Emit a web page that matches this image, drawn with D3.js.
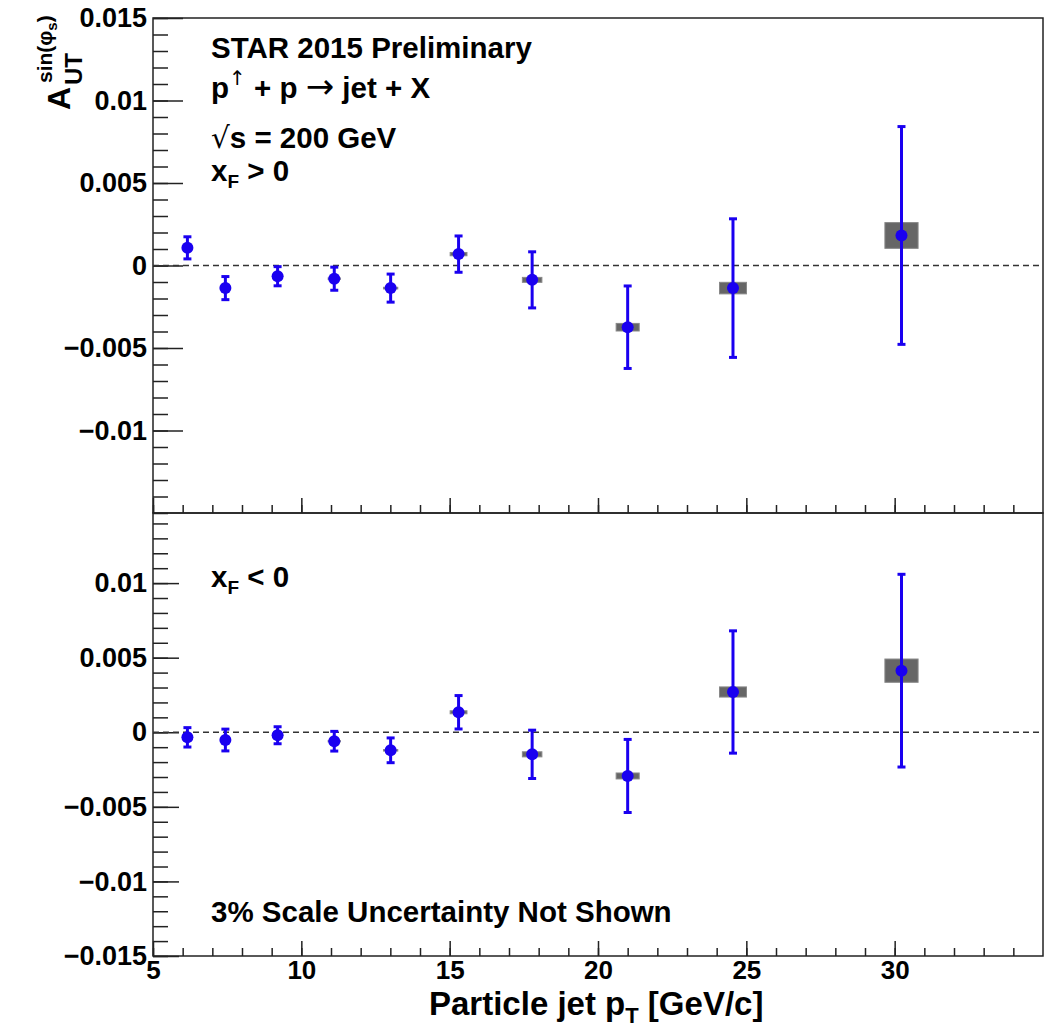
<!DOCTYPE html>
<html>
<head>
<meta charset="utf-8">
<script src="https://cdn.jsdelivr.net/npm/d3@7"></script>
<style>
body { margin: 0; background: #fff; }
text { font-family: "Liberation Sans", Arial, sans-serif; font-weight: bold; fill: #000; }
</style>
</head>
<body>
<script>
var w = 1051, h = 1031;

// particle jet pT bin centres
var pT = [6.16, 7.44, 9.2, 11.11, 13.01, 15.3, 17.78, 21.0, 24.55, 30.23];

// xF > 0
var aTop = [0.00107, -0.00137, -0.00065, -0.0008, -0.00137, 0.00069, -0.00087, -0.00374, -0.00137, 0.00182];
var statTop = [0.00067, 0.0007, 0.00058, 0.0007, 0.00085, 0.0011, 0.0017, 0.0025, 0.0042, 0.0066];
var sysTop = [0.00005, 0.00005, 0.00005, 0.00005, 0.00005, 0.0001, 0.00015, 0.00023, 0.00035, 0.00078];

// xF < 0
var aBot = [-0.00034, -0.00052, -0.0002, -0.0006, -0.00121, 0.00134, -0.00148, -0.00293, 0.0027, 0.00413];
var statBot = [0.00065, 0.00073, 0.00057, 0.00066, 0.00083, 0.00112, 0.00162, 0.00245, 0.0041, 0.00646];
var sysBot = [0.00005, 0.00005, 0.00005, 0.00005, 0.00005, 0.0001, 0.00017, 0.0002, 0.00034, 0.00078];

var xTicks = [5, 10, 15, 20, 25, 30];
var yTicksTop = [0.015, 0.01, 0.005, 0, -0.005, -0.01];
var yTicksBot = [0.01, 0.005, 0, -0.005, -0.01, -0.015];

var blue = "#1a00f0";
var padL = 153, padR = 1043, padT = 18, padM = 513, padB = 956;

var svg = d3.select("body").append("svg")
    .attr("width", w)
    .attr("height", h);

var x = d3.scaleLinear().domain([5, 35]).range([padL, padR]);
var yTop = d3.scaleLinear().domain([-0.015, 0.015]).range([padM, padT]);
var yBot = d3.scaleLinear().domain([-0.015, 0.0147]).range([padB, padM]);

var fmt = d3.format("~g");

function minorRange(a, b, step) {
    return d3.range(Math.ceil(a / step - 1e-6), Math.floor(b / step + 1e-6) + 1).map(function (k) { return +(k * step).toFixed(6); });
}

function styleTicks(g) {
    g.select(".domain").remove();
    g.selectAll("line").attr("stroke", "#222").attr("stroke-width", 1.5);
}

function drawPanel(y, yTicks, majLen, vals, stat, sys) {
    var y0 = y.range()[0], y1 = y.range()[1];

    // frame
    svg.append("rect")
        .attr("x", padL).attr("y", y1)
        .attr("width", padR - padL).attr("height", y0 - y1)
        .attr("fill", "none").attr("stroke", "#222").attr("stroke-width", 1.5);

    // y minor ticks
    svg.append("g")
        .attr("transform", "translate(" + padL + ",0)")
        .call(d3.axisLeft(y).tickValues(minorRange(y.domain()[0], y.domain()[1], 0.001)).tickSize(-15).tickFormat(""))
        .call(styleTicks);

    // y major ticks
    svg.append("g")
        .attr("transform", "translate(" + padL + ",0)")
        .call(d3.axisLeft(y).tickValues(yTicks).tickSize(-majLen).tickPadding(6).tickFormat(fmt))
        .call(styleTicks)
        .call(function (g) {
            g.selectAll("text").style("font-size", "27px").attr("font-family", null);
        });

    // x ticks on the lower edge
    svg.append("g")
        .attr("transform", "translate(0," + y0 + ")")
        .call(d3.axisBottom(x).tickValues(d3.range(5, 35)).tickSize(-8).tickFormat(""))
        .call(styleTicks);
    svg.append("g")
        .attr("transform", "translate(0," + y0 + ")")
        .call(d3.axisBottom(x).tickValues(xTicks).tickSize(-15).tickFormat(""))
        .call(styleTicks);

    // zero line
    svg.append("line")
        .attr("x1", padL).attr("x2", padR)
        .attr("y1", y(0)).attr("y2", y(0))
        .attr("stroke", "#333").attr("stroke-width", 1.5)
        .attr("stroke-dasharray", "6,4");

    var idx = d3.range(pT.length);

    // systematic boxes
    svg.append("g").selectAll("rect")
        .data(idx)
        .enter()
        .append("rect")
        .attr("x", function (i) { return x(pT[i] * 0.9815); })
        .attr("width", function (i) { return x(pT[i] * 1.0185) - x(pT[i] * 0.9815); })
        .attr("y", function (i) { return y(vals[i] + sys[i]); })
        .attr("height", function (i) { return y(vals[i] - sys[i]) - y(vals[i] + sys[i]); })
        .attr("fill", "#666")
        .attr("stroke", "#888")
        .attr("stroke-width", 1);

    // stat error bars
    var bars = svg.append("g").attr("stroke", blue).attr("stroke-width", 3);
    bars.selectAll(".eb")
        .data(idx)
        .enter()
        .append("line")
        .attr("x1", function (i) { return x(pT[i]); })
        .attr("x2", function (i) { return x(pT[i]); })
        .attr("y1", function (i) { return y(vals[i] + stat[i]); })
        .attr("y2", function (i) { return y(vals[i] - stat[i]); });
    [1, -1].forEach(function (s) {
        bars.selectAll(".cap" + s)
            .data(idx)
            .enter()
            .append("line")
            .attr("x1", function (i) { return x(pT[i]) - 4; })
            .attr("x2", function (i) { return x(pT[i]) + 4; })
            .attr("y1", function (i) { return y(vals[i] + s * stat[i]); })
            .attr("y2", function (i) { return y(vals[i] + s * stat[i]); });
    });

    // markers
    svg.append("g").selectAll("circle")
        .data(idx)
        .enter()
        .append("circle")
        .attr("cx", function (i) { return x(pT[i]); })
        .attr("cy", function (i) { return y(vals[i]); })
        .attr("r", 6)
        .attr("fill", blue);
}

drawPanel(yTop, yTicksTop, 30, aTop, statTop, sysTop);
drawPanel(yBot, yTicksBot, 26, aBot, statBot, sysBot);

// x tick labels
svg.append("g")
    .attr("transform", "translate(0," + padB + ")")
    .call(d3.axisBottom(x).tickValues(xTicks).tickSize(0).tickPadding(5))
    .call(function (g) {
        g.select(".domain").remove();
        g.selectAll("text").style("font-size", "26px").attr("font-family", null);
    });

// x title
var xt = svg.append("text").attr("x", 429).attr("y", 1015).style("font-size", "33px");
xt.append("tspan").text("Particle jet p");
xt.append("tspan").attr("dy", 8).style("font-size", "22px").text("T");
xt.append("tspan").attr("dy", -8).text(" [GeV/c]");

// y title
var yt = svg.append("g").attr("transform", "translate(70,110) rotate(-90)");
yt.append("text").attr("x", 0).attr("y", 0).style("font-size", "32px").text("A");
yt.append("text").attr("x", 25).attr("y", 12).style("font-size", "24px").text("UT");
var sup = yt.append("text").attr("x", 27).attr("y", -18).style("font-size", "21px");
sup.append("tspan").text("sin(\u03c6");
sup.append("tspan").attr("dy", 5).style("font-size", "15px").text("s");
sup.append("tspan").attr("dy", -5).text(")");

// annotations
var fs = "29.5px";
svg.append("text").attr("x", 211).attr("y", 58).style("font-size", fs).text("STAR 2015 Preliminary");

var t2 = svg.append("text").attr("x", 211).attr("y", 98).style("font-size", fs);
t2.append("tspan").text("p");
t2.append("tspan").attr("dy", -13).style("font-size", "20px").style("font-weight", "normal").attr("font-family", "DejaVu Sans").text("\u2191");
t2.append("tspan").attr("dy", 13).text(" + p  ");
t2.append("tspan").style("font-size", "34px").style("font-weight", "normal").attr("font-family", "DejaVu Sans").text("\u2192");
t2.append("tspan").text(" jet + X");

var t3 = svg.append("text").attr("x", 211).attr("y", 148).style("font-size", fs);
t3.append("tspan").style("font-weight", "normal").attr("font-family", "DejaVu Sans").text("\u221a");
t3.append("tspan").text("s = 200 GeV");

var t4 = svg.append("text").attr("x", 211).attr("y", 181).style("font-size", fs);
t4.append("tspan").text("x");
t4.append("tspan").attr("dy", 7).style("font-size", "19px").text("F");
t4.append("tspan").attr("dy", -7).text(" > 0");

var t5 = svg.append("text").attr("x", 211).attr("y", 587).style("font-size", fs);
t5.append("tspan").text("x");
t5.append("tspan").attr("dy", 7).style("font-size", "19px").text("F");
t5.append("tspan").attr("dy", -7).text(" < 0");

svg.append("text").attr("x", 211).attr("y", 922).style("font-size", fs).text("3% Scale Uncertainty Not Shown");
</script>
</body>
</html>
